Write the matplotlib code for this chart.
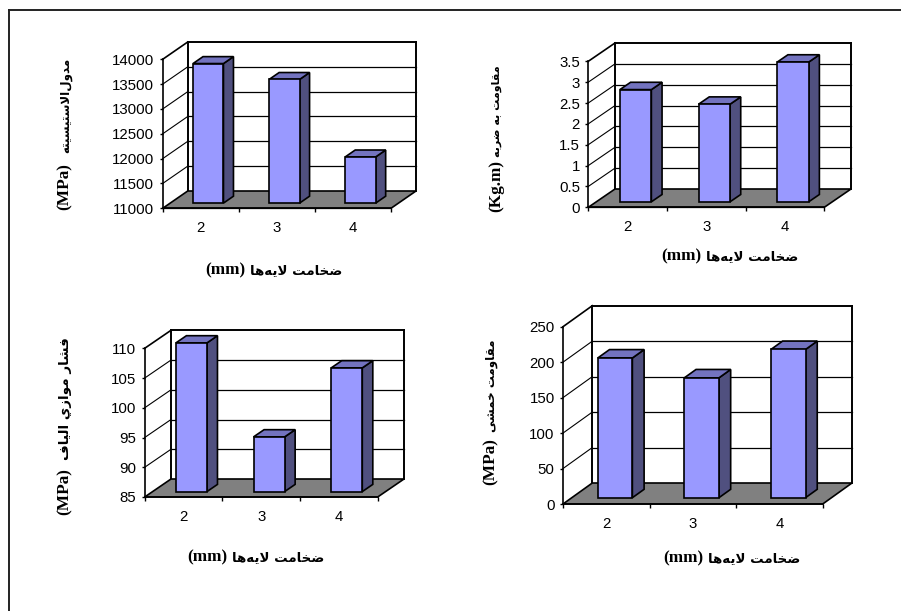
import matplotlib
matplotlib.use("Agg")
import matplotlib.pyplot as plt
from matplotlib.lines import Line2D
from matplotlib.patches import Polygon
from matplotlib.transforms import Affine2D, IdentityTransform

W, H = 901, 611

# data
thickness = ["2", "3", "4"]
modulus = [13810, 13490, 11930]
impact = [2.69, 2.34, 3.35]
compression = [110, 94.2, 105.8]
bending = [197, 169, 209]

modulus_ticks = [11000, 11500, 12000, 12500, 13000, 13500, 14000]
impact_ticks = [0, 0.5, 1, 1.5, 2, 2.5, 3, 3.5]
impact_tick_labels = ["0", "0.5", "1", "1.5", "2", "2.5", "3", "3.5"]
compression_ticks = [85, 90, 95, 100, 105, 110]
bending_ticks = [0, 50, 100, 150, 200, 250]

xlabel_fa = "ضخامت لایه\u200cها"
modulus_fa = "مدول\u200cالاستیسیته"
impact_fa = "مقاومت به ضربه"
compression_fa = "فشار موازي الیاف"
bending_fa = "مقاومت خمشی"

FACE = "#9999ff"
SIDE = "#50507f"
TOP = "#7373bf"
FLOOR = "#808080"

# isolated, final, initial, medial
FORMS = {
    "ض": "\ufebd\ufebe\ufebf\ufec0", "خ": "\ufea5\ufea6\ufea7\ufea8",
    "م": "\ufee1\ufee2\ufee3\ufee4", "ت": "\ufe95\ufe96\ufe97\ufe98",
    "ل": "\ufedd\ufede\ufedf\ufee0", "ی": "\ufbfc\ufbfd\ufbfe\ufbff",
    "ه": "\ufee9\ufeea\ufeeb\ufeec", "س": "\ufeb1\ufeb2\ufeb3\ufeb4",
    "ق": "\ufed5\ufed6\ufed7\ufed8", "ب": "\ufe8f\ufe90\ufe91\ufe92",
    "ف": "\ufed1\ufed2\ufed3\ufed4", "ش": "\ufeb5\ufeb6\ufeb7\ufeb8",
    "ي": "\ufef1\ufef2\ufef3\ufef4",
    # these only join to the letter before them
    "ا": "\ufe8d\ufe8e", "د": "\ufea9\ufeaa", "و": "\ufeed\ufeee",
    "ر": "\ufead\ufeae", "ز": "\ufeaf\ufeb0",
}


def shape(text):
    # matplotlib has no Arabic shaping, so pick the joined forms and reverse
    text = text.replace("لا", "\ufefb")
    out = []
    for i, c in enumerate(text):
        prev = text[i - 1] if i > 0 else " "
        nxt = text[i + 1] if i + 1 < len(text) else " "
        after = prev in FORMS and len(FORMS[prev]) == 4
        if c == "\ufefb":
            out.append("\ufefc" if after else c)
        elif c in FORMS:
            before = (nxt in FORMS or nxt == "\ufefb") and len(FORMS[c]) == 4
            out.append(FORMS[c][(2 if before else 0) + (1 if after else 0)])
        elif c != "\u200c":
            out.append(c)
    return "".join(reversed(out))


def chart(fig, box, depth, values, ticks, tick_labels):
    # box is the front plane in image pixels: left, right, bottom, top
    left, right, bottom, top = box
    dx, dy = depth
    ax = fig.add_axes([left / W, 1 - bottom / H, (right - left) / W, (bottom - top) / H])
    ax.patch.set_alpha(0)
    ax.set_xlim(0, 3)
    ax.set_ylim(ticks[0], ticks[-1])
    lo, hi = ticks[0], ticks[-1]

    def pt(x, v, k):
        px, py = ax.transData.transform((x, v))
        return px + dx * k, py + dy * k

    def poly(points, color, z):
        ax.add_patch(Polygon([pt(*p) for p in points], closed=True, facecolor=color,
                             edgecolor="black", linewidth=1.2, joinstyle="miter",
                             transform=IdentityTransform(), clip_on=False, zorder=z))

    def line(a, b, lw=1.0, z=1):
        pa, pb = pt(*a), pt(*b)
        ax.add_line(Line2D([pa[0], pb[0]], [pa[1], pb[1]], color="black", linewidth=lw,
                           transform=IdentityTransform(), clip_on=False, zorder=z))

    # grid on the left and back walls
    for v in ticks[1:-1]:
        line((0, v, 0), (0, v, 1), 0.8)
        line((0, v, 1), (3, v, 1), 0.9)
    line((0, hi, 0), (0, hi, 1), 1.2)
    line((0, hi, 1), (3, hi, 1), 1.4)
    line((0, lo, 1), (0, hi, 1), 1.4)
    line((3, lo, 1), (3, hi, 1), 1.4)
    poly([(0, lo, 0), (3, lo, 0), (3, lo, 1), (0, lo, 1)], FLOOR, 2)

    # bars stand between 30% and 70% of the depth
    near, far = 0.3, 0.7
    w = 0.4
    xs = [0.5, 1.5, 2.5]
    shift = Affine2D().translate(dx * near, dy * near)
    ax.bar(xs, [v - lo for v in values], width=w, bottom=lo, color=FACE, edgecolor="black",
           linewidth=1.2, transform=ax.transData + shift, clip_on=False, zorder=5)
    for x, v in zip(xs, values):
        a, b = x - w / 2, x + w / 2
        poly([(b, lo, near), (b, v, near), (b, v, far), (b, lo, far)], SIDE, 4)
        poly([(a, v, near), (b, v, near), (b, v, far), (a, v, far)], TOP, 4)

    for s in ["top", "right"]:
        ax.spines[s].set_visible(False)
    ax.spines["left"].set_linewidth(1.2)
    ax.spines["bottom"].set_linewidth(1.2)
    ax.spines["left"].set_zorder(6)
    ax.spines["bottom"].set_zorder(6)
    ax.set_yticks(ticks)
    ax.set_yticklabels(tick_labels, fontfamily="Liberation Sans", fontsize=10.8)
    ax.set_xticks([0, 1, 2, 3])
    ax.set_xticklabels([])
    ax.set_xticks(xs, minor=True)
    ax.set_xticklabels(thickness, minor=True, fontfamily="Liberation Sans", fontsize=10.8)
    ax.tick_params(axis="y", length=2.5, width=1, pad=3.5)
    ax.tick_params(axis="x", which="major", length=3, width=1)
    ax.tick_params(axis="x", which="minor", length=0, pad=9.5)
    return ax


def label(fig, x, y, fa, latin, fa_size, gap, rotation=0):
    # the latin part comes first (left, or bottom when rotated), as in the original
    def put(s, family, size):
        return fig.text(0, 0, s, ha="left", va="baseline", rotation=rotation,
                        rotation_mode="anchor", family=family, fontweight="bold", fontsize=size)

    t1 = put(latin, "Liberation Serif", 12.4)
    t2 = put(shape(fa), "DejaVu Sans", fa_size)
    r = fig.canvas.get_renderer()
    if rotation:
        l1, l2 = t1.get_window_extent(r).height, t2.get_window_extent(r).height
        start = y + (l1 + gap + l2) / 2
        t1.set_position(((x + 4) / W, 1 - start / H))
        t2.set_position(((x + 4) / W, 1 - (start - l1 - gap) / H))
    else:
        l1, l2 = t1.get_window_extent(r).width, t2.get_window_extent(r).width
        start = x - (l1 + gap + l2) / 2
        t1.set_position((start / W, 1 - (y + 4) / H))
        t2.set_position(((start + l1 + gap) / W, 1 - (y + 4) / H))


def main():
    fig = plt.figure(figsize=(W / 100, H / 100), dpi=100)

    # page frame, open on the right and at the bottom
    fig.add_artist(Line2D([9 / W, 9 / W], [0, 1 - 10 / H], color="#222222", linewidth=1.4))
    fig.add_artist(Line2D([8.5 / W, 1], [1 - 10 / H, 1 - 10 / H], color="#222222", linewidth=1.4))

    chart(fig, (162.7, 391, 208.3, 59.3), (25, 17.3), modulus, modulus_ticks,
          [str(t) for t in modulus_ticks])
    chart(fig, (588.3, 824.3, 207.3, 61.3), (26.7, 18.3), impact, impact_ticks, impact_tick_labels)
    chart(fig, (144.7, 377.7, 497, 348.3), (26.3, 18), compression, compression_ticks,
          [str(t) for t in compression_ticks])
    chart(fig, (563, 822.7, 504, 326.7), (29.3, 21), bending, bending_ticks,
          [str(t) for t in bending_ticks])

    label(fig, 274, 270, xlabel_fa, "(mm)", 9.6, 5)
    label(fig, 730, 256, xlabel_fa, "(mm)", 9.6, 5)
    label(fig, 256, 557, xlabel_fa, "(mm)", 9.6, 5)
    label(fig, 732, 558, xlabel_fa, "(mm)", 9.6, 5)
    label(fig, 65, 134, modulus_fa, "(MPa)", 8.6, 10, 90)
    label(fig, 496, 139, impact_fa, "(Kg.m)", 8.0, 3, 90)
    label(fig, 65, 426, compression_fa, "(MPa)", 9.7, 9, 90)
    label(fig, 491, 412, bending_fa, "(MPa)", 8.6, 6, 90)

    fig.savefig("out.png", dpi=100)


if __name__ == "__main__":
    main()
